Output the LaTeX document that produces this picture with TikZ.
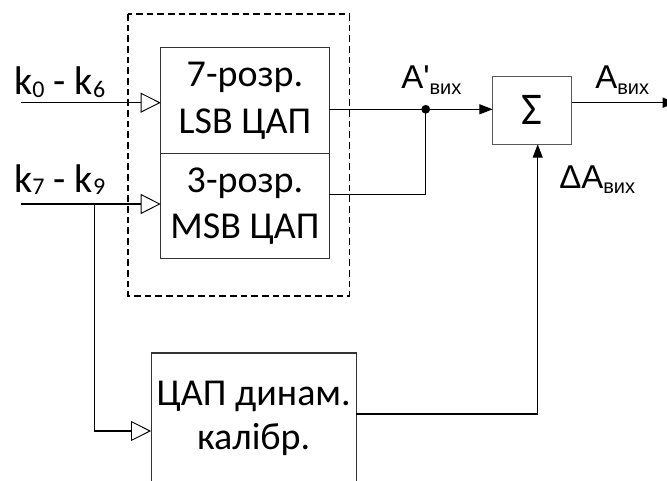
\documentclass[tikz,border=0pt]{standalone}
\usepackage{fontspec}
\setmainfont{Carlito}
\newfontfamily\arialf{Liberation Sans}
\usetikzlibrary{arrows.meta,calc}
\newcommand\ksub[1]{\raisebox{-0.07em}{\fontsize{18}{18}\selectfont #1}}
\newcommand\asub[1]{\raisebox{-0.17em}{\fontsize{15}{15}\selectfont #1}}
\begin{document}
\begin{tikzpicture}[x=0.75pt,y=-0.75pt,
  blk/.style={draw=black!80,line width=0.8pt,inner sep=0pt,outer sep=0pt,align=center,
    font=\fontsize{28.5}{35}\selectfont},
  wire/.style={line width=0.8pt},
  openin/.style={-{Triangle[open,length=15pt,width=15pt,line width=0.7pt]}},
  fillin/.style={-{Triangle[length=10pt,width=7.5pt]}},
  lbl/.style={inner sep=0pt,anchor=base west},
  klbl/.style={lbl,font=\fontsize{30}{30}\selectfont},
  albl/.style={lbl,font=\arialf\fontsize{24.75}{24.75}\selectfont}]
\useasboundingbox (0,0) rectangle (667,481);
\clip (0,0) rectangle (667,481);
% dashed enclosure
\draw[dashed,line width=1pt,dash pattern=on 5pt off 3pt] (128,14) rectangle (349.3,296);
% blocks
\node[blk,minimum width=126.5pt,minimum height=79.5pt] (lsb) at (245,100.7) {7-розр.\\LSB ЦАП};
\node[blk,minimum width=126.5pt,minimum height=78.5pt] (msb) at (245,206) {3-розр.\\MSB ЦАП};
\node[blk,minimum width=59.25pt,minimum height=51.2pt,draw=black!65,font=\fontsize{34}{34}\selectfont] (sum) at (532.2,110.2) {Σ};
\node[blk,minimum width=154pt,minimum height=97.5pt,font=\fontsize{28.5}{33}\selectfont] (cal) at (253.7,418) {ЦАП динам.\\калібр.};
% coordinates
\coordinate (in0) at (20.7,102.7);
\coordinate (in1) at (20.7,204);
\coordinate (br) at (94.3,204);
\coordinate (calin) at (151,431);
\coordinate (dot) at (425.7,109.3);
\coordinate (msbout) at (329.3,194.3);
\coordinate (calout) at (356.3,414);
\coordinate (sumin2) at (537.7,144.3);
\coordinate (outend) at (676,102.7);
% labels
\node[klbl] (k06) at (14,95) {k\ksub{0} - k\ksub{6}};
\node[klbl] (k79) at (14,192) {k\ksub{7} - k\ksub{9}};
\node[albl] (ap) at (401,89) {A'\asub{вих}};
\node[albl] (aout) at (595,89) {A\asub{вих}};
\node[albl] (da) at (559,188) {ΔA\asub{вих}};
% connectors
\draw[wire,openin] (in0) -- (in0 -| lsb.west);
\draw[wire,openin] (in1) -- (in1 -| msb.west);
\draw[wire,openin] (br) |- (calin);
\draw[wire] (dot -| lsb.east) -- (dot);
\draw[wire,fillin] (dot) -- (dot -| sum.west);
\draw[wire] (msbout) -| (dot);
\fill (dot) circle (3.3pt);
\draw[wire,fillin] (calout) -| (sumin2);
\draw[wire,fillin] (outend -| sum.east) -- (outend);
\end{tikzpicture}
\end{document}
